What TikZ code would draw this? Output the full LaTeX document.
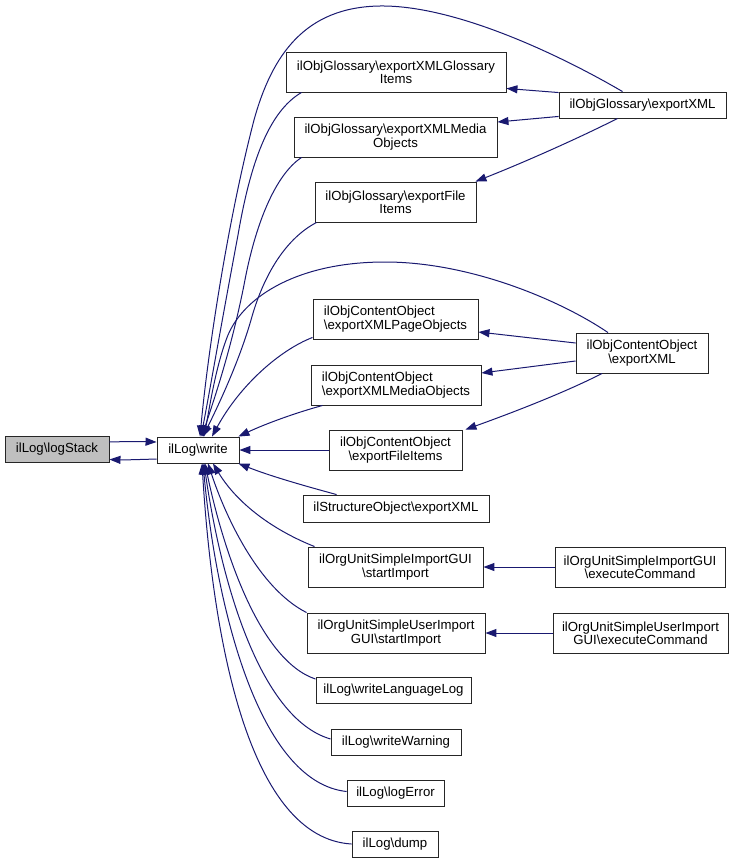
\documentclass[tikz,border=0pt]{standalone}
\usepackage{fontspec}
\setmainfont{Liberation Sans}
\usetikzlibrary{arrows.meta}
\definecolor{navy}{HTML}{191970}
\newcommand{\bs}{\textbackslash}
\begin{document}
\begin{tikzpicture}[x=1pt,y=-1pt,
  box/.style={draw=black!85, line width=0.9pt, fill=white, inner sep=0pt, align=center,
    font=\fontsize{13.2}{13.4}\selectfont},
  edge/.style={draw=navy, line width=1pt, -{Triangle[length=11pt,width=8pt]}}]
\useasboundingbox (0,0) rectangle (737,862);
% nodes
\node[box, fill=black!25, minimum width=104pt, minimum height=26pt] (logStack) at (57,449.5) {ilLog\bs logStack};
\node[box, minimum width=82pt, minimum height=26pt] (write) at (198,450) {ilLog\bs write};
\node[box, minimum width=220pt, minimum height=40pt] (gItems) at (396,72) {ilObjGlossary\bs exportXMLGlossary\\Items};
\node[box, minimum width=167pt, minimum height=26pt] (gXML) at (642.5,105) {ilObjGlossary\bs exportXML};
\node[box, minimum width=203pt, minimum height=40pt] (gMedia) at (395.5,137) {ilObjGlossary\bs exportXMLMedia\\Objects};
\node[box, minimum width=161pt, minimum height=40pt] (gFile) at (395.5,202) {ilObjGlossary\bs exportFile\\Items};
\node[box, align=left, minimum width=165pt, minimum height=40pt] (cPage) at (395.5,319) {ilObjContentObject\\\bs exportXMLPageObjects};
\node[box, minimum width=132pt, minimum height=40pt] (cXML) at (642,353) {ilObjContentObject\\\bs exportXML};
\node[box, align=left, minimum width=170pt, minimum height=40pt] (cMedia) at (396,385) {ilObjContentObject\\\bs exportXMLMediaObjects};
\node[box, minimum width=133pt, minimum height=40pt] (cFile) at (395.5,450) {ilObjContentObject\\\bs exportFileItems};
\node[box, minimum width=186pt, minimum height=27pt] (sXML) at (396,508.5) {ilStructureObject\bs exportXML};
\node[box, minimum width=175pt, minimum height=40pt] (ouStart) at (395.5,567) {ilOrgUnitSimpleImportGUI\\\bs startImport};
\node[box, minimum width=170pt, minimum height=40pt] (ouExec) at (640,567) {ilOrgUnitSimpleImportGUI\\\bs executeCommand};
\node[box, minimum width=178pt, minimum height=40pt] (uuStart) at (396,633) {ilOrgUnitSimpleUserImport\\GUI\bs startImport};
\node[box, minimum width=175pt, minimum height=40pt] (uuExec) at (640.5,633) {ilOrgUnitSimpleUserImport\\GUI\bs executeCommand};
\node[box, minimum width=155pt, minimum height=26pt] (wLang) at (393.5,690.5) {ilLog\bs writeLanguageLog};
\node[box, minimum width=130pt, minimum height=26pt] (wWarn) at (396,742) {ilLog\bs writeWarning};
\node[box, minimum width=97pt, minimum height=26pt] (lErr) at (395.5,793.5) {ilLog\bs logError};
\node[box, minimum width=86pt, minimum height=26pt] (dump) at (395,844) {ilLog\bs dump};
% logStack <-> write
\draw[edge] ([yshift=7.5pt]logStack.east) .. controls (125,441.5) and (140,441.5) .. ([yshift=8pt]write.west);
\draw[edge] ([yshift=-9pt]write.west) .. controls (140,459.5) and (125,460) .. ([yshift=-10pt]logStack.east);
% edges into write (top)
\draw[edge] ([xshift=-20pt]gXML.north) .. controls (560,55) and (455,5) .. (380,6)
  .. controls (305,7) and (272,55) .. (254,120) .. controls (228,220) and (208,350) .. ([xshift=2pt]write.north);
\draw[edge] ([xshift=16pt]gItems.south west) .. controls (268,112) and (250,165) .. (238,235)
  .. controls (222,320) and (209,395) .. ([xshift=3pt]write.north);
\draw[edge] ([xshift=8pt]gMedia.south west) .. controls (275,175) and (255,225) .. (244,285)
  .. controls (230,355) and (212,405) .. ([xshift=4pt]write.north);
\draw[edge] ([xshift=2pt]gFile.south west) .. controls (283,240) and (262,280) .. (251,320)
  .. controls (238,365) and (216,410) .. ([xshift=5pt]write.north);
\draw[edge] ([xshift=-34pt]cXML.north) .. controls (560,300) and (470,262) .. (385,262)
  .. controls (300,262) and (245,295) .. (228,335) .. controls (216,365) and (210,405) .. ([xshift=6pt]write.north);
\draw[edge] ([yshift=2pt]cPage.south west) .. controls (280,350) and (240,385) .. ([xshift=14pt]write.north);
\draw[edge] ([xshift=12pt]cMedia.south west) .. controls (295,413) and (265,424) .. ([xshift=-1pt]write.north east);
\draw[edge] (cFile.west) -- (write.east);
% edges into write (bottom)
\draw[edge] ([xshift=34pt]sXML.north west) .. controls (305,486) and (270,476) .. ([xshift=-1pt]write.south east);
\draw[edge] ([xshift=7pt]ouStart.north west) .. controls (268,528) and (235,500) .. ([xshift=15pt]write.south);
\draw[edge] (uuStart.north west) .. controls (258,588) and (225,515) .. ([xshift=10pt]write.south);
\draw[edge] ([yshift=-2pt]wLang.north west) .. controls (258,660) and (222,545) .. ([xshift=7pt]write.south);
\draw[edge] ([yshift=3pt]wWarn.west) .. controls (258,718) and (220,575) .. ([xshift=6pt]write.south);
\draw[edge] ([yshift=2pt]lErr.west) .. controls (258,782) and (216,605) .. ([xshift=5pt]write.south);
\draw[edge] (dump.west) .. controls (250,838) and (213,645) .. ([xshift=4pt]write.south);
% right-hand edges
\draw[edge] ([yshift=-1pt]gXML.north west) -- ([yshift=4pt]gItems.south east);
\draw[edge] ([yshift=2pt]gXML.south west) -- ([yshift=15pt]gMedia.east);
\draw[edge] ([xshift=-25pt]gXML.south) .. controls (585,135) and (530,160) .. ([xshift=-1pt]gFile.north east);
\draw[edge] ([yshift=10pt]cXML.west) -- ([yshift=-13pt]cPage.east);
\draw[edge] ([yshift=-8pt]cXML.west) -- ([yshift=12pt]cMedia.east);
\draw[edge] ([xshift=-40pt]cXML.south) .. controls (570,390) and (520,410) .. ([xshift=3pt]cFile.north east);
\draw[edge] (ouExec.west) -- (ouStart.east);
\draw[edge] (uuExec.west) -- (uuStart.east);
\end{tikzpicture}
\end{document}
